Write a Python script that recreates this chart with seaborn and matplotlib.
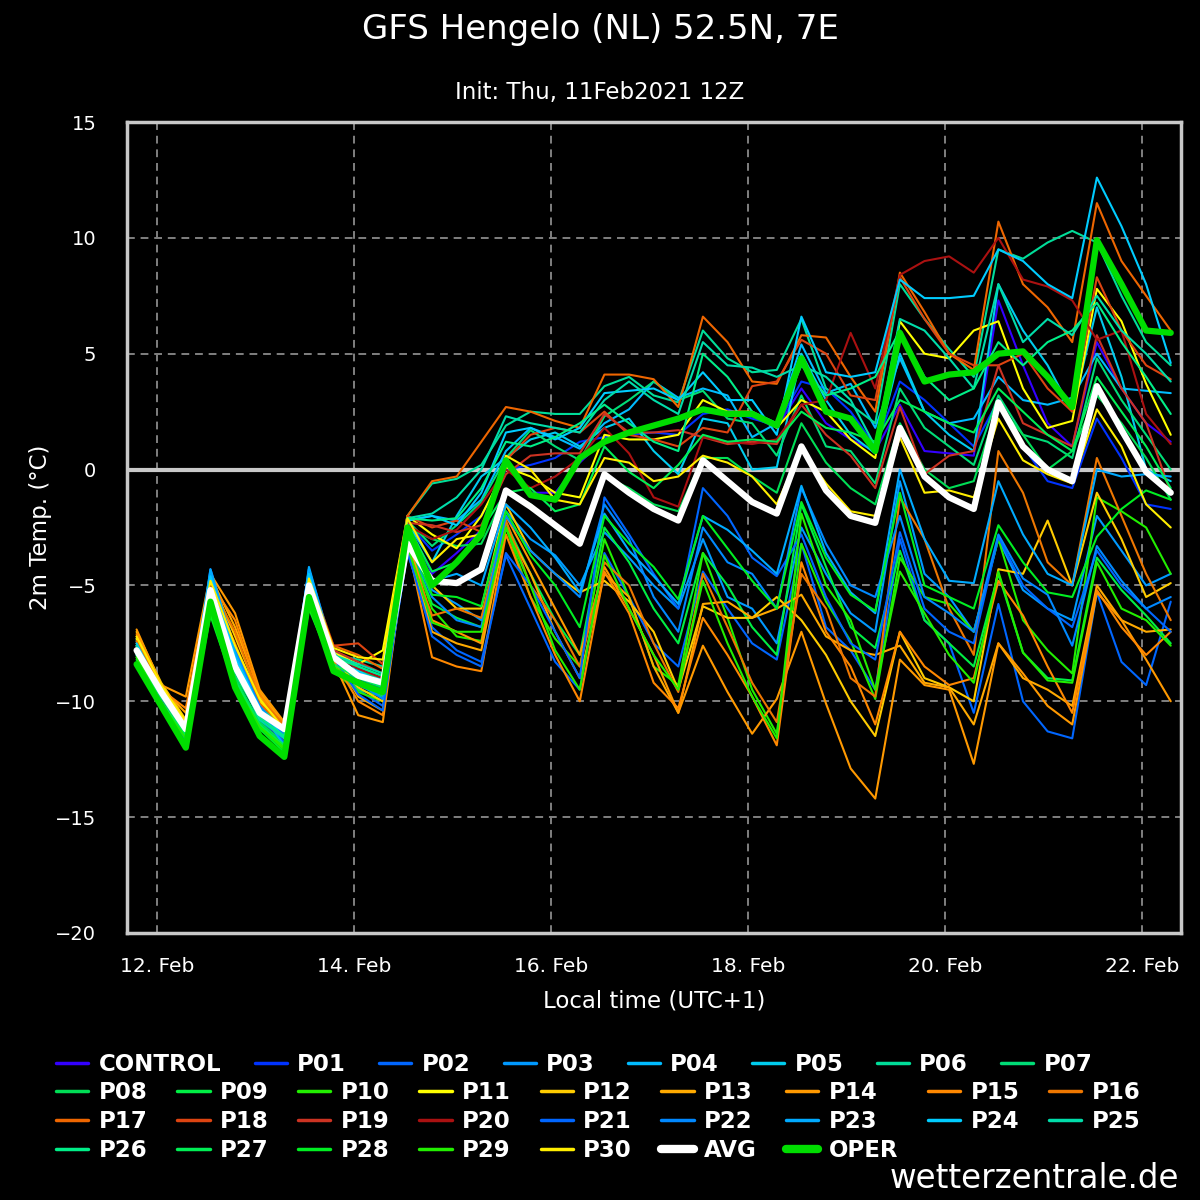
import matplotlib
matplotlib.use("Agg")
import matplotlib.pyplot as plt
import matplotlib.dates as mdates
from matplotlib.lines import Line2D
import pandas as pd
import seaborn as sns

# 6-hourly steps, local time (UTC+1), run 11 Feb 2021 12Z
times = pd.date_range("2021-02-11 19:00", periods=43, freq="6h")

control = [-7.7, -9.7, -11.3, -5.2, -8.4, -10.6, -11.5, -5.0, -8.2, -8.9, -9.3,
           -2.3, -4.5, -3.6, -2.6, 0.4, -1.0, -1.0, 0.3, 1.3, 1.6, 1.9, 2.1, 2.6, 2.4, 2.3, 1.8,
           3.5, 2.0, 1.3, 0.8, 2.8, 0.8, 0.7, 0.6, 7.3, 4.5, 2.0, 1.0, 5.5, 3.5, 2.0, 1.2]
p01 = [-7.8, -9.8, -11.4, -5.3, -8.6, -10.8, -11.7, -5.1, -8.3, -9.0, -9.5,
       -2.3, -3.5, -2.8, -2.0, 0.0, 0.2, 0.5, 1.2, 1.4, 1.5, 1.6, 1.5, 2.4, 2.6, 2.2, 1.9,
       3.8, 3.5, 2.5, 1.0, 3.8, 3.0, 2.0, 1.0, 3.0, 1.0, -0.5, -0.8, 2.2, 0.5, -1.5, -1.7]
p02 = [-7.9, -9.9, -11.6, -4.3, -7.7, -10.0, -11.3, -4.3, -7.8, -9.5, -10.2,
       -3.6, -6.8, -7.8, -8.3, -3.7, -6.0, -8.3, -9.5, -3.6, -5.5, -7.5, -8.5, -4.4, -6.0, -7.5, -8.2,
       -3.2, -6.8, -7.8, -9.5, -3.0, -6.5, -7.5, -10.5, -5.8, -10.0, -11.3, -11.6, -5.3, -8.3, -9.3, -5.7]
p03 = [-7.5, -9.5, -11.0, -4.5, -7.9, -10.1, -11.6, -4.4, -8.0, -9.3, -9.8,
       -2.8, -5.2, -5.8, -6.5, -1.8, -3.0, -3.7, -5.0, -2.7, -3.8, -5.0, -6.0, -3.0, -5.5, -6.0, -7.5,
       -2.5, -4.5, -6.2, -7.0, -0.5, -4.5, -5.5, -7.0, -3.0, -5.2, -6.0, -6.5, -2.0, -3.5, -5.0, -4.5]
p04 = [-7.4, -9.4, -11.1, -4.8, -8.0, -10.2, -11.4, -4.6, -7.9, -8.6, -9.1,
       -2.2, -2.0, -2.2, -1.3, 0.8, 1.8, 1.4, 0.9, 2.0, 2.6, 3.8, 3.1, 3.5, 3.2, 1.4, 2.0,
       5.4, 3.3, 3.7, 1.8, 4.8, 2.5, 2.0, 2.2, 4.0, 3.0, 2.8, 3.1, 5.0, 3.5, 3.4, 3.3]
p05 = [-7.3, -9.3, -10.9, -5.0, -8.2, -10.4, -11.2, -4.9, -7.8, -8.5, -9.0,
       -2.3, -4.0, -2.0, -0.3, 0.5, 1.3, 1.6, 1.0, 1.8, 2.2, 0.8, -0.2, 2.2, 2.0, 0.0, 0.1,
       5.0, 3.0, 1.5, 0.7, 5.0, 2.5, 1.5, 0.8, 8.0, 6.0, 4.5, 2.5, 7.0, 4.0, 0.0, -0.5]
p06 = [-7.6, -9.6, -11.2, -5.5, -8.6, -10.3, -11.0, -5.3, -8.0, -8.2, -8.5,
       -2.0, -0.6, -0.4, 0.2, 1.9, 2.5, 2.4, 2.4, 3.6, 4.0, 3.2, 2.9, 6.0, 4.8, 4.2, 4.3,
       6.5, 3.5, 2.8, 2.0, 8.0, 6.5, 5.2, 4.0, 9.5, 9.1, 9.8, 10.3, 9.8, 7.5, 5.5, 4.5]
p07 = [-7.7, -9.6, -11.1, -5.6, -8.9, -10.6, -11.3, -5.4, -8.3, -8.7, -9.0,
       -2.2, -3.3, -2.4, -1.4, 0.5, 1.7, 1.0, 0.4, 2.3, 3.0, 3.8, 3.0, 3.4, 2.2, 2.0, 0.6,
       3.2, 1.0, 0.8, -0.6, 3.5, 1.8, 1.0, 0.2, 3.2, 1.5, 1.2, 0.5, 4.8, 3.0, 1.5, 0.0]
p08 = [-7.9, -9.9, -11.5, -5.8, -9.0, -10.9, -11.8, -5.5, -8.5, -9.2, -9.6,
       -2.5, -3.0, -3.3, -3.2, -1.0, -1.5, -2.5, -3.2, -0.3, -0.8, -1.5, -1.8, 0.5, 0.5, -0.3, -1.0,
       2.0, 0.3, -0.8, -1.5, 2.0, 0.0, -0.8, -0.5, 2.8, 1.5, 0.0, 0.8, 3.2, 2.0, 0.5, -1.3]
p09 = [-8.0, -10.0, -11.6, -6.2, -9.3, -11.0, -12.0, -5.9, -8.6, -9.5, -9.8,
       -3.0, -5.8, -6.4, -6.8, -2.3, -4.5, -6.5, -8.0, -2.5, -4.0, -6.0, -7.5, -3.6, -5.0, -6.8, -8.0,
       -1.5, -4.2, -6.8, -7.7, -3.5, -6.5, -7.5, -8.5, -4.5, -7.9, -9.0, -9.1, -3.8, -5.2, -6.3, -7.5]
p10 = [-8.1, -10.1, -11.7, -6.0, -9.2, -11.1, -12.1, -5.8, -8.7, -9.6, -10.0,
       -3.1, -6.0, -7.2, -7.4, -2.5, -5.5, -7.3, -8.5, -3.0, -5.5, -8.5, -9.3, -3.6, -6.4, -9.5, -11.4,
       -3.2, -5.7, -7.4, -9.9, -3.8, -5.5, -5.8, -7.0, -3.0, -6.5, -7.8, -8.8, -1.2, -1.8, -2.5, -4.5]
p11 = [-7.3, -9.4, -11.0, -4.9, -7.9, -10.0, -11.2, -4.8, -7.9, -8.4, -7.8,
       -2.0, -2.8, -3.4, -2.0, 0.1, -0.3, -1.0, -1.2, 1.5, 1.3, 1.3, 1.5, 3.0, 2.5, 2.5, 1.8,
       3.0, 2.5, 1.3, 0.5, 6.4, 5.0, 4.8, 6.0, 6.4, 3.5, 1.8, 2.1, 7.8, 6.4, 3.7, 1.5]
p12 = [-7.0, -9.2, -10.8, -4.7, -7.2, -9.8, -11.2, -4.9, -8.1, -9.4, -10.0,
       -3.0, -5.0, -6.0, -6.0, -1.5, -3.5, -4.5, -5.3, -4.8, -5.7, -7.0, -9.5, -5.9, -6.4, -6.4, -5.5,
       -6.5, -8.0, -10.0, -11.5, -7.0, -9.0, -9.4, -10.0, -4.3, -4.5, -2.2, -5.0, -1.0, -3.0, -5.5, -4.9]
p13 = [-7.2, -9.4, -10.5, -4.6, -6.8, -9.6, -11.0, -4.7, -8.0, -9.8, -10.4,
       -3.3, -7.0, -7.5, -7.8, -2.5, -4.5, -7.0, -9.0, -4.5, -5.5, -8.5, -10.5, -5.8, -5.7, -6.4, -6.0,
       -5.4, -7.2, -7.8, -8.0, -7.6, -9.2, -9.4, -11.0, -7.5, -9.0, -9.5, -10.2, -5.0, -6.5, -7.0, -6.9]
p14 = [-6.9, -9.3, -9.8, -4.5, -6.2, -9.5, -10.9, -4.6, -8.3, -10.6, -10.9,
       -3.0, -6.5, -7.0, -7.5, -2.0, -4.0, -6.0, -8.0, -4.2, -6.0, -8.0, -10.5, -7.6, -9.6, -11.4, -9.9,
       -7.0, -10.1, -12.9, -14.2, -8.2, -9.3, -9.5, -12.7, -7.5, -8.8, -10.2, -11.0, -5.3, -6.5, -8.2, -10.0]
p15 = [-7.1, -9.5, -10.3, -4.9, -6.5, -9.7, -11.1, -4.8, -8.2, -10.0, -10.6,
       -3.2, -8.1, -8.5, -8.7, -2.8, -5.5, -8.0, -10.0, -4.4, -6.2, -9.2, -10.3, -6.4, -8.0, -9.8, -11.9,
       -4.0, -7.0, -8.5, -11.0, -7.0, -8.5, -9.3, -9.0, -4.8, -6.3, -8.5, -10.5, -5.2, -6.8, -8.0, -7.0]
p16 = [-7.4, -9.6, -10.9, -5.0, -7.0, -9.9, -11.0, -5.0, -8.0, -9.1, -9.7,
       -3.4, -6.3, -6.0, -6.4, -2.2, -5.0, -6.5, -8.5, -4.0, -5.0, -7.5, -9.6, -4.5, -6.8, -9.2, -10.9,
       -4.5, -6.0, -9.0, -9.8, -1.2, -3.0, -6.0, -8.0, 0.8, -1.0, -4.0, -5.0, 0.5, -2.0, -4.5, -6.5]
p17 = [-7.5, -9.5, -11.0, -5.1, -7.5, -10.1, -11.1, -5.1, -7.6, -8.0, -8.6,
       -2.0, -0.5, -0.3, 1.2, 2.7, 2.5, 2.1, 1.8, 4.1, 4.1, 3.9, 2.7, 6.6, 5.5, 3.8, 3.7,
       5.8, 5.7, 4.0, 2.5, 8.5, 6.8, 5.0, 4.3, 10.7, 8.0, 7.0, 5.5, 11.5, 9.0, 7.5, 6.0]
p18 = [-7.6, -9.7, -11.2, -4.7, -7.8, -10.4, -11.5, -4.6, -7.6, -7.5, -8.4,
       -2.0, -2.5, -2.2, -2.7, 0.4, 1.5, 1.8, 1.6, 2.5, 1.5, 1.3, 1.0, 1.8, 1.6, 3.6, 3.8,
       5.6, 5.0, 3.2, 3.0, 8.3, 6.5, 5.0, 4.5, 4.5, 5.0, 3.5, 2.5, 8.3, 6.0, 4.5, 3.9]
p19 = [-7.7, -9.8, -11.4, -4.9, -8.0, -10.5, -11.6, -4.8, -7.8, -8.3, -8.8,
       -2.3, -2.4, -2.7, -2.4, -0.2, 0.6, 0.7, 0.7, 2.4, 1.6, 1.6, 1.7, 1.4, 1.1, 1.2, 1.1,
       2.8, 1.5, 0.6, -0.8, 2.7, -0.2, 0.6, 0.8, 4.5, 2.0, 1.5, 1.0, 5.8, 3.5, 2.0, -1.0]
p20 = [-7.8, -9.9, -11.5, -5.0, -8.1, -10.7, -11.7, -4.9, -8.0, -8.6, -9.0,
       -2.4, -3.0, -2.6, -1.5, 0.0, -0.8, -0.3, 0.5, 1.8, 0.7, -1.2, -1.6, 1.4, 1.2, 1.1, 1.3,
       2.8, 3.0, 5.9, 3.5, 8.4, 9.0, 9.2, 8.5, 10.0, 8.2, 7.9, 7.3, 5.6, 6.0, 2.4, 1.1]
p21 = [-8.0, -10.0, -11.7, -4.5, -8.0, -10.3, -11.8, -4.3, -8.1, -9.7, -10.4,
       -3.5, -7.2, -8.0, -8.5, -3.6, -5.0, -7.0, -9.0, -1.2, -2.8, -4.5, -6.0, -0.8, -2.0, -3.8, -4.6,
       -2.8, -5.5, -7.5, -8.2, -2.7, -6.0, -7.0, -7.5, -2.9, -5.0, -6.0, -6.8, -3.5, -5.0, -6.0, -7.0]
p22 = [-7.9, -9.8, -11.4, -4.4, -7.8, -10.2, -11.5, -4.5, -7.9, -9.2, -9.9,
       -3.0, -5.5, -6.5, -6.8, -2.0, -3.5, -4.5, -5.5, -1.5, -3.0, -5.5, -7.0, -2.5, -4.0, -4.5, -6.0,
       -0.8, -3.2, -5.0, -5.5, -2.0, -5.5, -6.2, -7.0, -2.8, -4.7, -5.4, -7.6, -3.3, -4.8, -6.0, -5.5]
p23 = [-7.6, -9.7, -11.3, -4.3, -7.9, -10.4, -11.9, -4.2, -8.0, -8.8, -9.4,
       -2.6, -4.8, -4.5, -5.0, -1.5, -2.5, -3.8, -5.3, -1.9, -3.5, -4.6, -5.8, -2.0, -2.6, -3.5, -4.5,
       -0.7, -3.6, -5.3, -6.2, 0.0, -3.0, -4.8, -4.9, -0.5, -2.8, -4.5, -5.0, 0.0, -0.3, -0.2, -0.3]
p24 = [-7.5, -9.6, -11.2, -4.6, -8.1, -10.3, -11.6, -4.5, -8.2, -8.7, -9.2,
       -2.2, -2.0, -2.4, -1.0, 1.6, 1.8, 1.3, 1.8, 3.3, 3.4, 3.5, 3.0, 4.2, 3.0, 3.0, 1.5,
       6.6, 4.2, 4.0, 4.2, 8.2, 7.4, 7.4, 7.5, 9.5, 9.0, 8.0, 7.4, 12.6, 10.5, 8.0, 4.6]
p25 = [-7.6, -9.7, -11.3, -5.2, -8.5, -10.8, -11.6, -5.2, -8.0, -8.4, -8.8,
       -2.1, -1.9, -1.2, 0.0, 2.3, 2.0, 1.8, 1.6, 3.0, 3.8, 3.0, 2.4, 5.5, 4.5, 4.4, 4.0,
       4.5, 4.0, 3.0, 1.0, 6.5, 6.0, 4.8, 3.5, 8.0, 5.5, 6.5, 5.8, 7.5, 6.0, 5.0, 3.8]
p26 = [-7.8, -9.8, -11.4, -5.4, -8.7, -10.7, -11.5, -5.3, -8.1, -8.5, -8.9,
       -2.1, -2.2, -2.1, -0.8, 1.2, 1.0, 1.4, 2.0, 2.8, 2.0, 1.2, 0.8, 5.0, 4.0, 2.5, 2.0,
       4.5, 3.2, 3.5, 4.0, 6.0, 4.0, 3.0, 3.5, 5.5, 4.5, 5.5, 6.0, 7.2, 5.5, 4.0, 2.4]
p27 = [-8.0, -10.0, -11.5, -5.7, -9.1, -11.0, -11.9, -5.6, -8.4, -9.0, -9.4,
       -2.4, -4.4, -4.0, -2.6, -1.0, -0.8, -1.8, -1.5, 1.0, -0.1, -0.8, 0.2, 1.5, 1.2, 1.3, 1.2,
       2.5, 1.8, 1.6, 1.2, 3.0, 2.5, 2.0, 1.6, 3.5, 2.5, 1.5, 0.8, 4.0, 2.5, 1.0, -0.8]
p28 = [-8.2, -10.2, -11.8, -6.3, -9.4, -11.2, -12.2, -6.0, -8.6, -9.3, -9.7,
       -2.9, -5.4, -5.5, -5.9, -1.8, -3.7, -5.0, -6.8, -2.0, -3.2, -4.2, -5.6, -2.0, -3.4, -4.8, -6.0,
       -1.4, -3.8, -5.4, -6.1, -1.0, -5.0, -5.5, -6.0, -2.4, -4.0, -5.3, -5.5, -2.9, -1.7, -0.9, -1.3]
p29 = [-8.1, -10.1, -11.6, -6.1, -9.3, -11.1, -12.0, -5.9, -8.5, -9.2, -9.6,
       -3.3, -6.6, -7.0, -7.0, -2.5, -5.0, -7.8, -9.5, -3.7, -6.0, -8.0, -9.5, -4.8, -7.5, -9.8, -11.6,
       -1.9, -5.0, -6.5, -9.5, -4.4, -6.2, -8.0, -9.2, -4.4, -7.9, -9.1, -9.2, -4.0, -6.0, -6.5, -7.6]
p30 = [-7.2, -9.3, -10.9, -4.8, -7.6, -9.9, -11.2, -4.7, -7.7, -8.1, -8.2,
       -2.1, -4.0, -3.0, -2.8, 0.6, 0.0, -1.3, -1.5, 0.5, 0.3, -0.5, -0.3, 0.6, 0.3, -0.3, -1.5,
       0.9, -0.6, -1.8, -2.0, 1.4, -1.0, -0.9, -1.2, 2.2, 0.4, -0.2, -0.6, 2.6, 1.0, -1.5, -2.5]

avg = [-7.8, -9.6, -11.2, -5.2, -8.5, -10.5, -11.2, -5.0, -8.1, -8.9, -9.2,
       -3.2, -4.8, -4.9, -4.3, -0.9, -1.6, -2.4, -3.2, -0.2, -1.0, -1.7, -2.2, 0.4, -0.5, -1.4, -1.9,
       1.0, -0.9, -2.0, -2.3, 1.8, -0.3, -1.2, -1.7, 2.9, 1.0, 0.0, -0.5, 3.6, 1.7, -0.1, -1.0]
oper = [-8.4, -10.2, -12.0, -5.7, -9.4, -11.5, -12.4, -5.5, -8.7, -9.2, -9.6,
        -2.5, -5.0, -4.0, -2.8, 0.4, -1.1, -1.3, 0.5, 1.2, 1.6, 1.9, 2.2, 2.6, 2.4, 2.4, 1.9,
        4.8, 2.5, 2.2, 0.8, 5.9, 3.8, 4.1, 4.2, 5.0, 5.1, 4.0, 2.7, 9.9, 8.0, 6.0, 5.9]

member_names = ["CONTROL"] + ["P%02d" % i for i in range(1, 31)]
member_values = [control, p01, p02, p03, p04, p05, p06, p07, p08, p09, p10,
                 p11, p12, p13, p14, p15, p16, p17, p18, p19, p20,
                 p21, p22, p23, p24, p25, p26, p27, p28, p29, p30]
member_colors = ["#3300ff", "#0033ff", "#0066ff", "#0099ff", "#00bbff", "#00ccee",
                 "#00dd99", "#00dd77", "#00dd55", "#00ee44", "#22ee00",
                 "#ffff00", "#ffcc00", "#ffaa00", "#ff9900", "#ff8800", "#ee7700",
                 "#ee6600", "#dd4411", "#cc3322", "#aa1111",
                 "#0066ff", "#0088ff", "#00aaff", "#00ccff", "#00ddaa",
                 "#00ee88", "#00ee55", "#00ee22", "#22ee00", "#ffee00"]

frames = []
for name, vals in zip(member_names, member_values):
    frames.append(pd.DataFrame({"time": times, "temp": vals, "member": name}))
df = pd.concat(frames, ignore_index=True)

sns.set_style("dark")
plt.rcParams["font.family"] = ["DejaVu Sans"]
plt.rcParams["axes.unicode_minus"] = True

fig = plt.figure(figsize=(12, 12), dpi=100, facecolor="black")
ax = fig.add_axes([127 / 1200, 1 - 933 / 1200, (1181 - 127) / 1200, (933 - 122) / 1200])
ax.set_facecolor("black")

ax.axhline(0, color="#c8c8c8", lw=3, zorder=1.5)
sns.lineplot(data=df, x="time", y="temp", hue="member", hue_order=member_names,
             palette=dict(zip(member_names, member_colors)), linewidth=1.5,
             estimator=None, legend=False, ax=ax)
sns.lineplot(x=times, y=avg, color="white", linewidth=4.5, ax=ax)
sns.lineplot(x=times, y=oper, color="#00dd00", linewidth=4.5, ax=ax)

ax.set_ylim(-20, 15)
ax.set_yticks(range(-20, 16, 5))
ax.set_xlim(pd.Timestamp("2021-02-11 16:40"), pd.Timestamp("2021-02-22 09:30"))
ax.xaxis.set_major_locator(mdates.DayLocator(bymonthday=[12, 14, 16, 18, 20, 22]))
ax.xaxis.set_major_formatter(mdates.DateFormatter("%d. %b"))

ax.grid(True, color="#808080", linestyle=(0, (4, 3)), linewidth=1.4)
ax.set_axisbelow(True)
for s in ax.spines.values():
    s.set_color("#c8c8c8")
    s.set_linewidth(2.5)

ax.tick_params(axis="x", length=14, width=1.5, color="#c0cce0", labelcolor="white",
               labelsize=14.5, pad=3)
ax.tick_params(axis="y", length=0, labelcolor="white", labelsize=14, pad=22)
ax.set_xlabel("Local time (UTC+1)", color="white", fontsize=16.5, labelpad=10)
ax.set_ylabel("2m Temp. (°C)", color="white", fontsize=16.5, labelpad=2)

fig.text(0.5, 1 - 30 / 1200, "GFS Hengelo (NL) 52.5N, 7E", ha="center", va="center",
         color="white", fontsize=24.5)
fig.text(0.5, 1 - 92 / 1200, "Init: Thu, 11Feb2021 12Z", ha="center", va="center",
         color="white", fontsize=16.5)
fig.text(0.983, 0.018, "wetterzentrale.de", ha="right", va="center", color="white", fontsize=23.5)

# legend: first row separate (CONTROL is wider), rest as a 9-column grid
handles = {n: Line2D([0], [0], color=c, lw=2.5) for n, c in zip(member_names, member_colors)}
handles["AVG"] = Line2D([0], [0], color="white", lw=6)
handles["OPER"] = Line2D([0], [0], color="#00dd00", lw=6)
leg_kw = dict(frameon=False, prop={"weight": "bold", "size": 16.5}, labelcolor="white",
              handlelength=1.4, handletextpad=0.45, borderpad=0, borderaxespad=0,
              labelspacing=0.25)

row1 = member_names[:8]
fig.legend([handles[n] for n in row1], row1, loc="upper left", bbox_to_anchor=(0.047, 0.1225),
           ncol=8, columnspacing=1.45, **leg_kw)

rows = [member_names[8:17], member_names[17:26], member_names[26:] + ["AVG", "OPER"]]
order = []
for c in range(9):
    for r in rows:
        if c < len(r):
            order.append(r[c])
fig.legend([handles[n] for n in order], order, loc="upper left", bbox_to_anchor=(0.047, 0.099),
           ncol=9, columnspacing=1.3, **leg_kw)

fig.savefig("out.png", dpi=100, facecolor="black")
